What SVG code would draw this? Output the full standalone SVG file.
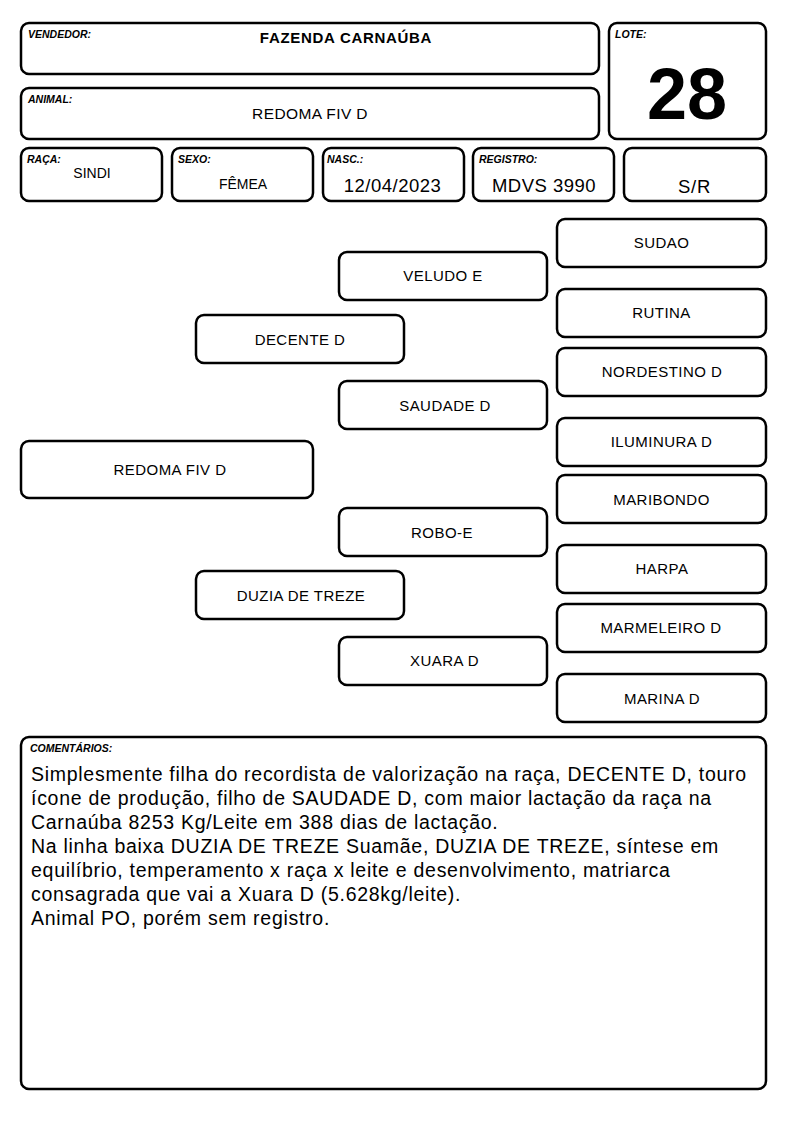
<svg xmlns="http://www.w3.org/2000/svg" width="794" height="1123" viewBox="0 0 794 1123">
<style>
.b{fill:#fff;stroke:#000;stroke-width:2.5}
.lbl{font-family:"Liberation Sans",Arial,sans-serif;font-size:10.5px;font-weight:bold;font-style:italic;fill:#000}
.v{font-family:"Liberation Sans",Arial,sans-serif;fill:#000;text-anchor:middle}
.p{font-family:"Liberation Sans",Arial,sans-serif;font-size:15px;letter-spacing:0.45px;fill:#000;text-anchor:middle}
.c{font-family:"Liberation Sans",Arial,sans-serif;font-size:19.5px;letter-spacing:0.72px;fill:#000}
</style>
<rect width="794" height="1123" fill="#fff"/>
<g id="vendedor"><rect class="b" x="21" y="23" width="578" height="51" rx="8"/><text class="lbl" x="28" y="38">VENDEDOR:</text><text class="v" x="346" y="43" font-size="15" font-weight="bold" letter-spacing="0.7">FAZENDA CARNAÚBA</text></g>
<g id="animal"><rect class="b" x="21" y="88" width="578" height="51" rx="8"/><text class="lbl" x="28" y="103">ANIMAL:</text><text class="v" x="310" y="119" font-size="15.5" letter-spacing="0.4">REDOMA FIV D</text></g>
<g id="lote"><rect class="b" x="609" y="23" width="157" height="116" rx="8"/><text class="lbl" x="615" y="38">LOTE:</text><text class="v" x="687" y="119" font-size="72" font-weight="bold">28</text></g>
<g id="raca"><rect class="b" x="21" y="148" width="141" height="53" rx="8"/><text class="lbl" x="27" y="163">RAÇA:</text><text class="v" x="92" y="178" font-size="14">SINDI</text></g>
<g id="sexo"><rect class="b" x="172" y="148" width="141" height="53" rx="8"/><text class="lbl" x="178" y="163">SEXO:</text><text class="v" x="243" y="189" font-size="14">FÊMEA</text></g>
<g id="nasc"><rect class="b" x="323" y="148" width="141" height="53" rx="8"/><text class="lbl" x="327" y="163">NASC.:</text><text class="v" x="392.5" y="192" font-size="18.5" letter-spacing="0.5">12/04/2023</text></g>
<g id="registro"><rect class="b" x="473" y="148" width="141" height="53" rx="8"/><text class="lbl" x="479" y="163">REGISTRO:</text><text class="v" x="544" y="192" font-size="18.5" letter-spacing="0.5">MDVS 3990</text></g>
<g id="sr"><rect class="b" x="624" y="148" width="142" height="53" rx="8"/><text class="v" x="694.5" y="193" font-size="18.5" letter-spacing="0.8">S/R</text></g>
<g id="sudao"><rect class="b" x="557" y="219" width="209" height="48" rx="8"/><text class="p" x="661.5" y="248">SUDAO</text></g>
<g id="veludo"><rect class="b" x="339" y="252" width="208" height="48" rx="8"/><text class="p" x="443" y="281">VELUDO E</text></g>
<g id="rutina"><rect class="b" x="557" y="289" width="209" height="48" rx="8"/><text class="p" x="661.5" y="318">RUTINA</text></g>
<g id="decente"><rect class="b" x="196" y="315" width="208" height="48" rx="8"/><text class="p" x="300" y="345">DECENTE D</text></g>
<g id="nordestino"><rect class="b" x="557" y="348" width="209" height="48" rx="8"/><text class="p" x="662" y="377">NORDESTINO D</text></g>
<g id="saudade"><rect class="b" x="339" y="381" width="208" height="48" rx="8"/><text class="p" x="445" y="411">SAUDADE D</text></g>
<g id="iluminura"><rect class="b" x="557" y="418" width="209" height="48" rx="8"/><text class="p" x="661.5" y="447">ILUMINURA D</text></g>
<g id="redoma"><rect class="b" x="21" y="441" width="292" height="57" rx="8"/><text class="p" x="170" y="475">REDOMA FIV D</text></g>
<g id="maribondo"><rect class="b" x="557" y="475" width="209" height="48" rx="8"/><text class="p" x="661.5" y="505">MARIBONDO</text></g>
<g id="robo"><rect class="b" x="339" y="508" width="208" height="48" rx="8"/><text class="p" x="442" y="538">ROBO-E</text></g>
<g id="harpa"><rect class="b" x="557" y="545" width="209" height="48" rx="8"/><text class="p" x="662" y="574">HARPA</text></g>
<g id="duzia"><rect class="b" x="196" y="571" width="208" height="48" rx="8"/><text class="p" x="301" y="601">DUZIA DE TREZE</text></g>
<g id="marmeleiro"><rect class="b" x="557" y="604" width="209" height="48" rx="8"/><text class="p" x="661" y="633">MARMELEIRO D</text></g>
<g id="xuara"><rect class="b" x="339" y="637" width="208" height="48" rx="8"/><text class="p" x="444.5" y="666">XUARA D</text></g>
<g id="marina"><rect class="b" x="557" y="674" width="209" height="48" rx="8"/><text class="p" x="662" y="704">MARINA D</text></g>
<g id="connectors"></g>
<g id="comentarios"><rect class="b" x="21" y="737" width="745" height="352" rx="8"/><text class="lbl" x="30" y="752" font-size="10">COMENTÁRIOS:</text>
<text class="c" x="31" y="781">Simplesmente filha do recordista de valorização na raça, DECENTE D, touro</text>
<text class="c" x="31" y="805">ícone de produção, filho de SAUDADE D, com maior lactação da raça na</text>
<text class="c" x="31" y="829">Carnaúba 8253 Kg/Leite em 388 dias de lactação.</text>
<text class="c" x="31" y="853">Na linha baixa DUZIA DE TREZE Suamãe, DUZIA DE TREZE, síntese em</text>
<text class="c" x="31" y="877">equilíbrio, temperamento x raça x leite e desenvolvimento, matriarca</text>
<text class="c" x="31" y="901">consagrada que vai a Xuara D (5.628kg/leite).</text>
<text class="c" x="31" y="925">Animal PO, porém sem registro.</text>
</g>
</svg>
